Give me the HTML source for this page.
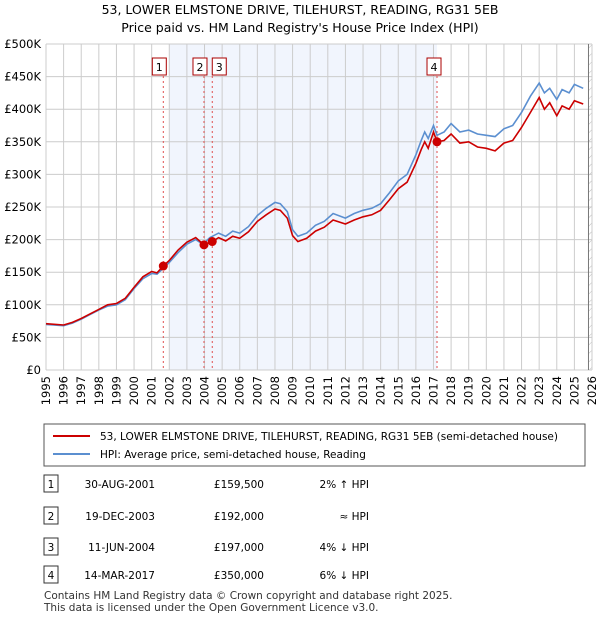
<!DOCTYPE html>
<html><head><meta charset="utf-8"><style>
body{margin:0;background:#fff;font-family:"Liberation Sans","DejaVu Sans",sans-serif;}
svg text{font-family:"DejaVu Sans","Liberation Sans",sans-serif;}
</style></head><body>
<svg id="c" width="600" height="620" xmlns="http://www.w3.org/2000/svg">
<defs><pattern id="hatch" width="6" height="6" patternUnits="userSpaceOnUse" patternTransform="rotate(45)"><line x1="0" y1="0" x2="0" y2="6" stroke="#bbb" stroke-width="1"/></pattern></defs>
<text x="300" y="14" text-anchor="middle" font-size="12.5">53, LOWER ELMSTONE DRIVE, TILEHURST, READING, RG31 5EB</text>
<text x="300" y="32" text-anchor="middle" font-size="12.5">Price paid vs. HM Land Registry's House Price Index (HPI)</text>
<g id="plot"></g>
<g>
<rect x="44" y="424" width="541" height="42" fill="#fff" stroke="#555" stroke-width="1"/>
<line x1="53" y1="436" x2="90" y2="436" stroke="#cc0000" stroke-width="2"/>
<text x="100" y="440" font-size="10.5">53, LOWER ELMSTONE DRIVE, TILEHURST, READING, RG31 5EB (semi-detached house)</text>
<line x1="53" y1="454" x2="90" y2="454" stroke="#5b8fd0" stroke-width="2"/>
<text x="100" y="458" font-size="10.5">HPI: Average price, semi-detached house, Reading</text>
</g>
<g id="table" font-size="10.5"></g>
<text x="44" y="599" font-size="10.5" fill="#333">Contains HM Land Registry data © Crown copyright and database right 2025.</text>
<text x="44" y="611" font-size="10.5" fill="#333">This data is licensed under the Open Government Licence v3.0.</text>
</svg>
<script>
const hpiYears=[1995,1996,1996.5,1997,1997.5,1998,1998.5,1999,1999.5,2000,2000.5,2001,2001.3,2001.66,2002,2002.5,2003,2003.5,2003.9,2004.3,2004.8,2005.2,2005.6,2006,2006.5,2007,2007.5,2008,2008.3,2008.7,2009,2009.3,2009.8,2010.3,2010.8,2011.3,2012,2012.5,2013,2013.5,2014,2014.5,2015,2015.5,2016,2016.3,2016.5,2016.7,2017,2017.2,2017.6,2018,2018.5,2019,2019.5,2020,2020.5,2021,2021.5,2022,2022.5,2023,2023.3,2023.6,2024,2024.3,2024.7,2025,2025.5];
const hpiValues=[70,68,72,78,85,92,98,100,108,125,140,148,147,156,165,180,193,200,193,203,210,205,213,210,220,237,248,257,255,243,215,205,210,222,228,240,233,240,245,248,255,272,290,300,330,352,365,355,375,360,365,378,365,368,362,360,358,370,375,395,420,440,425,432,415,430,425,438,432];
const priceYears=[1995,1996,1996.5,1997,1997.5,1998,1998.5,1999,1999.5,2000,2000.5,2001,2001.3,2001.66,2002,2002.5,2003,2003.5,2003.97,2004.44,2004.8,2005.2,2005.6,2006,2006.5,2007,2007.5,2008,2008.3,2008.7,2009,2009.3,2009.8,2010.3,2010.8,2011.3,2012,2012.5,2013,2013.5,2014,2014.5,2015,2015.5,2016,2016.3,2016.5,2016.7,2017,2017.2,2017.6,2018,2018.5,2019,2019.5,2020,2020.5,2021,2021.5,2022,2022.5,2023,2023.3,2023.6,2024,2024.3,2024.7,2025,2025.5];
const priceValues=[71,69,73,79,86,93,100,102,110,127,143,151,149,159.5,168,184,196,203,192,197,203,198,205,202,212,228,238,247,245,233,206,197,202,213,219,230,224,230,235,238,245,261,278,288,317,338,350,340,365,350,352,362,348,350,342,340,336,348,352,372,395,418,400,410,390,405,400,413,408];
const saleLabels=["1","2","3","4"];
const saleYears=[2001.66,2003.97,2004.44,2017.2];
const salePrices=[159.5,192,197,350];
const saleDates=["30-AUG-2001","19-DEC-2003","11-JUN-2004","14-MAR-2017"];
const salePriceText=["£159,500","£192,000","£197,000","£350,000"];
const saleHpiText=["2% ↑ HPI","≈ HPI","4% ↓ HPI","6% ↓ HPI"];
const yTicks=[0,50,100,150,200,250,300,350,400,450,500];
const yTickLabels=["£0","£50K","£100K","£150K","£200K","£250K","£300K","£350K","£400K","£450K","£500K"];
const xTicks=[1995,1996,1997,1998,1999,2000,2001,2002,2003,2004,2005,2006,2007,2008,2009,2010,2011,2012,2013,2014,2015,2016,2017,2018,2019,2020,2021,2022,2023,2024,2025,2026];

const NS="http://www.w3.org/2000/svg";
const L=46,R=592,T=44,B=370;
const X=y=>L+(y-1995)/(31)*(R-L);
const Y=v=>B-v/500*(B-T);
const plot=document.getElementById('plot');
function mk(tag,attrs,parent){const e=document.createElementNS(NS,tag);for(const k in attrs)e.setAttribute(k,attrs[k]);(parent||plot).appendChild(e);return e;}
let e;
e=mk('rect',{x:X(2002),y:T,width:X(2017.2)-X(2002),height:B-T,fill:'#eef3fd',opacity:0.8});


e=mk('rect',{x:X(2025.8),y:T,width:R-X(2025.8),height:B-T,fill:'url(#hatch)'});


xTicks.forEach(t=>{
 e=mk('line',{x1:X(t),x2:X(t),y1:T,y2:B,stroke:'#ccc','stroke-width':1});
 
 
 e=mk('text',{x:0,y:0,'font-size':11.5,'text-anchor':'end',transform:`translate(${X(t)+4},${B+6}) rotate(-90)`});
 e.textContent=t;
 
 
});
yTicks.forEach((t,i)=>{
 e=mk('line',{x1:L,x2:R,y1:Y(t),y2:Y(t),stroke:'#ccc','stroke-width':1});
 
 
 e=mk('text',{x:L-5,y:Y(t)+4,'font-size':11.5,'text-anchor':'end'});
 e.textContent=yTickLabels[i];
 
 
});
e=mk('line',{x1:X(2025.8),x2:X(2025.8),y1:T,y2:B,stroke:'#777','stroke-width':1});


saleYears.forEach((s,i)=>{
 e=mk('line',{x1:X(s),x2:X(s),y1:T+32,y2:B,stroke:'#e05050','stroke-width':1,'stroke-dasharray':'2,3'});
 
 
});
const path=(xs,vs)=>xs.map((x,i)=>(i?'L':'M')+X(x).toFixed(1)+','+Y(vs[i]).toFixed(1)).join('');
e=mk('path',{d:path(hpiYears,hpiValues),fill:'none',stroke:'#5b8fd0','stroke-width':1.6});


e=mk('path',{d:path(priceYears,priceValues),fill:'none',stroke:'#cc0000','stroke-width':1.6});


const boxOff=[-4,-4,7,-3];
saleYears.forEach((s,i)=>{
 e=mk('circle',{cx:X(s),cy:Y(salePrices[i]),r:4.5,fill:'#cc0000'});
 
 
 const bx=X(s)+boxOff[i]-7;
 e=mk('rect',{x:bx,y:58,width:14,height:17,fill:'#fff',stroke:'#aa0000','stroke-width':1});
 
 
 e=mk('text',{x:bx+7,y:71,'font-size':11,'text-anchor':'middle'});
 e.textContent=saleLabels[i];
 
 
});
const tb=document.getElementById('table');
const rowY=[484,516,547,575];
saleLabels.forEach((lb,i)=>{
 const y=rowY[i];
 e=mk('rect',{x:44,y:y-9,width:14,height:17,fill:'#fff',stroke:'#333','stroke-width':1},tb);
 
 
 e=mk('text',{x:51,y:y+4,'text-anchor':'middle'},tb);e.textContent=lb;
 
 
 e=mk('text',{x:155,y:y+4,'text-anchor':'end'},tb);e.textContent=saleDates[i];
 
 
 e=mk('text',{x:264,y:y+4,'text-anchor':'end'},tb);e.textContent=salePriceText[i];
 
 
 e=mk('text',{x:369,y:y+4,'text-anchor':'end'},tb);e.textContent=saleHpiText[i];
 
 
});
</script>
</body></html>
